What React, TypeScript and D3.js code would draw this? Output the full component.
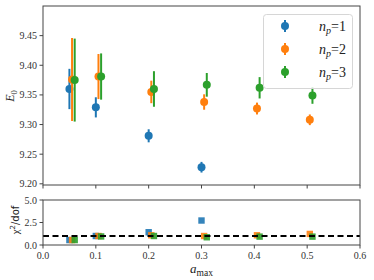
import React from 'react';
import { scaleLinear } from 'd3';

// values
const amax = [0.05, 0.1, 0.2, 0.3, 0.4, 0.5];
const xNp1 = [0.05, 0.1, 0.2, 0.3];
const xNp2 = [0.055, 0.105, 0.205, 0.305, 0.405, 0.505];
const xNp3 = [0.06, 0.11, 0.21, 0.31, 0.41, 0.51];

const e0Np1 = [9.36, 9.329, 9.281, 9.228];
const errNp1 = [0.034, 0.017, 0.011, 0.009];
const e0Np2 = [9.376, 9.381, 9.355, 9.338, 9.327, 9.308];
const errNp2 = [0.07, 0.038, 0.019, 0.013, 0.01, 0.009];
const e0Np3 = [9.375, 9.381, 9.36, 9.367, 9.362, 9.349];
const errNp3 = [0.07, 0.039, 0.03, 0.02, 0.018, 0.014];

const chiNp1 = [0.55, 1.0, 1.42, 2.72];
const chiNp2 = [0.55, 1.0, 1.08, 1.0, 1.08, 1.23];
const chiNp3 = [0.55, 0.95, 1.0, 0.86, 0.93, 0.93];

const xTicks = [0.0, 0.1, 0.2, 0.3, 0.4, 0.5, 0.6];
const e0Ticks = [9.2, 9.25, 9.3, 9.35, 9.4, 9.45];
const chiTicks = [0.0, 2.5, 5.0];
const npLabels = ['1', '2', '3'];
const colors = ['#1f77b4', '#ff7f0e', '#2ca02c'];

const left = 43;
const right = 360;
const top = 6;
const mid = 185;
const top2 = 200;
const bottom = 245;

const x = scaleLinear().domain([0, 0.6]).range([left, right]);
const y = scaleLinear().domain([9.198, 9.5]).range([mid, top]);
const y2 = scaleLinear().domain([0, 5]).range([bottom, top2]);

const serif = '"Liberation Serif", "DejaVu Serif", serif';
const axisColor = '#444';

const series = [
  { xs: xNp1, e0: e0Np1, err: errNp1, chi: chiNp1 },
  { xs: xNp2, e0: e0Np2, err: errNp2, chi: chiNp2 },
  { xs: xNp3, e0: e0Np3, err: errNp3, chi: chiNp3 },
];

const App = () => {
  const fmt2 = (v: number) => v.toFixed(2);
  const fmt1 = (v: number) => v.toFixed(1);

  return (
    <svg width={374} height={280} style={{ position: 'absolute', left: 0, top: 0, background: '#fff' }}>
      <defs>
        <clipPath id="clip-top"><rect x={left} y={top} width={right - left} height={mid - top} /></clipPath>
        <clipPath id="clip-bot"><rect x={left} y={top2} width={right - left} height={bottom - top2} /></clipPath>
      </defs>

      {/* top panel marks */}
      <g clipPath="url(#clip-top)">
        {series.map((s, si) => (
          <g key={si}>
            {s.xs.map((xv, i) => (
              <g key={i}>
                <line x1={x(xv)} x2={x(xv)} y1={y(s.e0[i] - s.err[i])} y2={y(s.e0[i] + s.err[i])}
                  stroke={colors[si]} strokeWidth={2} />
                <circle cx={x(xv)} cy={y(s.e0[i])} r={4} fill={colors[si]} />
              </g>
            ))}
          </g>
        ))}
      </g>

      {/* bottom panel marks */}
      <g clipPath="url(#clip-bot)">
        {series.map((s, si) => (
          <g key={si}>
            {s.xs.map((xv, i) => (
              <rect key={i} x={x(xv) - 3.2} y={y2(s.chi[i]) - 3.2} width={6.4} height={6.4}
                fill={colors[si]} fillOpacity={0.9} />
            ))}
          </g>
        ))}
        <line x1={left} x2={right} y1={y2(1)} y2={y2(1)} stroke="#000" strokeWidth={2} strokeDasharray="6,3.5" />
      </g>

      {/* frames */}
      <rect x={left} y={top} width={right - left} height={mid - top} fill="none" stroke={axisColor} strokeWidth={1} />
      <rect x={left} y={top2} width={right - left} height={bottom - top2} fill="none" stroke={axisColor} strokeWidth={1} />

      {/* y ticks top */}
      {e0Ticks.map((t) => (
        <g key={t}>
          <line x1={left - 3.5} x2={left} y1={y(t)} y2={y(t)} stroke={axisColor} />
          <text x={left - 6} y={y(t) + 3.5} textAnchor="end" fontFamily={serif} fontSize={10} fill="#333">{fmt2(t)}</text>
        </g>
      ))}
      {/* y ticks bottom */}
      {chiTicks.map((t) => (
        <g key={t}>
          <line x1={left - 3.5} x2={left} y1={y2(t)} y2={y2(t)} stroke={axisColor} />
          <text x={left - 6} y={y2(t) + 3.5} textAnchor="end" fontFamily={serif} fontSize={10} fill="#333">{fmt1(t)}</text>
        </g>
      ))}
      {/* x ticks */}
      {xTicks.map((t) => (
        <g key={t}>
          <line x1={x(t)} x2={x(t)} y1={mid} y2={mid + 3.5} stroke={axisColor} />
          <line x1={x(t)} x2={x(t)} y1={bottom} y2={bottom + 3.5} stroke={axisColor} />
          <text x={x(t)} y={bottom + 13.5} textAnchor="middle" fontFamily={serif} fontSize={10} fill="#333">{fmt1(t)}</text>
        </g>
      ))}

      {/* axis labels */}
      <text transform="translate(14,96) rotate(-90)" textAnchor="middle" fontFamily={serif} fontSize={12} fill="#222">
        <tspan fontStyle="italic">E</tspan><tspan fontSize={8.5} dy={2.5}>0</tspan>
      </text>
      <text transform="translate(19,220) rotate(-90)" textAnchor="middle" fontFamily='"DejaVu Sans", sans-serif' fontSize={10} fill="#222">
        <tspan fontFamily={serif} fontSize={11}>χ</tspan><tspan fontSize={7} dy={-4}>2</tspan><tspan dy={4}>/dof</tspan>
      </text>
      <text x={(left + right) / 2} y={273} textAnchor="middle" fontFamily={serif} fontSize={13} fill="#222">
        <tspan fontStyle="italic">a</tspan><tspan fontSize={9.5} dy={2.5}>max</tspan>
      </text>

      {/* legend */}
      <rect x={263.5} y={14.5} width={89} height={74} rx={3} fill="#fff" fillOpacity={0.8} stroke="#d6d6d6" />
      {npLabels.map((lab, i) => {
        const ly = 26 + i * 23;
        return (
          <g key={lab}>
            <line x1={285} x2={285} y1={ly - 6} y2={ly + 6} stroke={colors[i]} strokeWidth={2} />
            <circle cx={285} cy={ly} r={4} fill={colors[i]} />
            <text x={346} y={ly + 5} textAnchor="end" fontFamily={serif} fontSize={14} fill="#222">
              <tspan fontStyle="italic">n</tspan><tspan fontStyle="italic" fontSize={10} dy={3}>p</tspan>
              <tspan dy={-3}>=</tspan><tspan>{lab}</tspan>
            </text>
          </g>
        );
      })}
    </svg>
  );
};

export default App;
